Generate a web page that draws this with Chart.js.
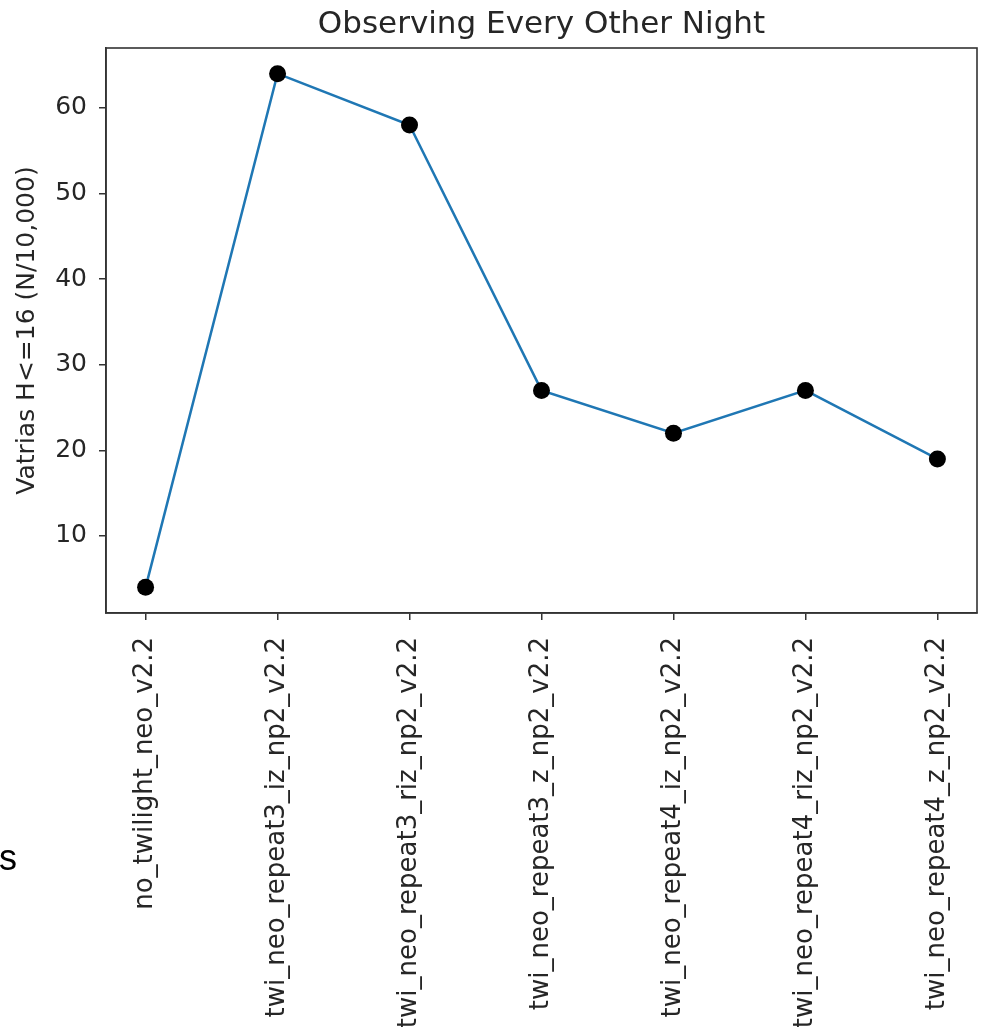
<!DOCTYPE html>
<html>
<head>
<meta charset="utf-8">
<script src="https://cdn.jsdelivr.net/npm/chart.js@4"></script>
<style>
  body { margin: 0; background: #fff; }
  #wrap { width: 981px; height: 1027px; }
</style>
</head>
<body>
<div id="wrap"><canvas id="chart" width="981" height="1027"></canvas></div>
<script>
// data
const runNames = [
  'no_twilight_neo_v2.2',
  'twi_neo_repeat3_iz_np2_v2.2',
  'twi_neo_repeat3_riz_np2_v2.2',
  'twi_neo_repeat3_z_np2_v2.2',
  'twi_neo_repeat4_iz_np2_v2.2',
  'twi_neo_repeat4_riz_np2_v2.2',
  'twi_neo_repeat4_z_np2_v2.2'
];
const vatriasCounts = [4, 64, 58, 27, 22, 27, 19];
const yTicks = [10, 20, 30, 40, 50, 60];

const FONT = 'DejaVu Sans';
const INK = '#262626';

// title over the plot area, closed box, stray "s" on the left
const extras = {
  id: 'extras',
  afterDraw(chart) {
    const { ctx, chartArea: a } = chart;
    ctx.save();
    ctx.strokeStyle = '#333';
    ctx.lineWidth = 1.6;
    ctx.strokeRect(a.left, a.top, a.right - a.left, a.bottom - a.top);
    ctx.fillStyle = INK;
    ctx.font = `31px "${FONT}"`;
    ctx.textAlign = 'center';
    ctx.textBaseline = 'alphabetic';
    ctx.fillText('Observing Every Other Night', (a.left + a.right) / 2, 33);
    ctx.fillStyle = '#000';
    ctx.font = '36px "Liberation Sans"';
    ctx.textAlign = 'left';
    ctx.fillText('s', -1, 870);
    ctx.restore();
  }
};

new Chart(document.getElementById('chart').getContext('2d'), {
  type: 'line',
  data: {
    datasets: [{
      data: vatriasCounts.map((v, i) => ({ x: i, y: v })),
      borderColor: '#1f77b4',
      borderWidth: 2.5,
      pointRadius: 8.5,
      pointBackgroundColor: '#000',
      pointBorderColor: '#000',
      pointBorderWidth: 0,
      tension: 0,
      fill: false
    }]
  },
  options: {
    responsive: false,
    animation: false,
    layout: { autoPadding: false, padding: { top: 48, right: 4, left: 0, bottom: 0 } },
    plugins: { legend: { display: false }, tooltip: { enabled: false }, title: { display: false } },
    scales: {
      x: {
        type: 'linear',
        min: -0.3, max: 6.3,
        afterBuildTicks: s => { s.ticks = runNames.map((_, i) => ({ value: i })); },
        afterFit: s => { s.height = 414; s.paddingLeft = 0; s.paddingRight = 0; },
        grid: { drawOnChartArea: false, drawTicks: true, tickLength: 7, color: '#333', lineWidth: 1.5 },
        border: { display: true, color: '#333', width: 1.6 },
        ticks: {
          autoSkip: false, minRotation: 90, maxRotation: 90, padding: 17,
          color: INK, font: { family: FONT, size: 26 },
          callback: v => runNames[v]
        }
      },
      y: {
        min: 1, max: 67,
        afterBuildTicks: s => { s.ticks = yTicks.map(v => ({ value: v })); },
        afterFit: s => { s.width = 106; s.paddingTop = 0; s.paddingBottom = 0; },
        grid: { drawOnChartArea: false, drawTicks: true, tickLength: 7, color: '#333', lineWidth: 1.5 },
        border: { display: true, color: '#333', width: 1.6 },
        ticks: { padding: 12, color: INK, font: { family: FONT, size: 25 } },
        title: {
          display: true, text: 'Vatrias H<=16 (N/10,000)',
          color: INK, font: { family: FONT, size: 25 }, padding: { top: 12, bottom: 0 }
        }
      }
    }
  },
  plugins: [extras]
});
</script>
</body>
</html>
